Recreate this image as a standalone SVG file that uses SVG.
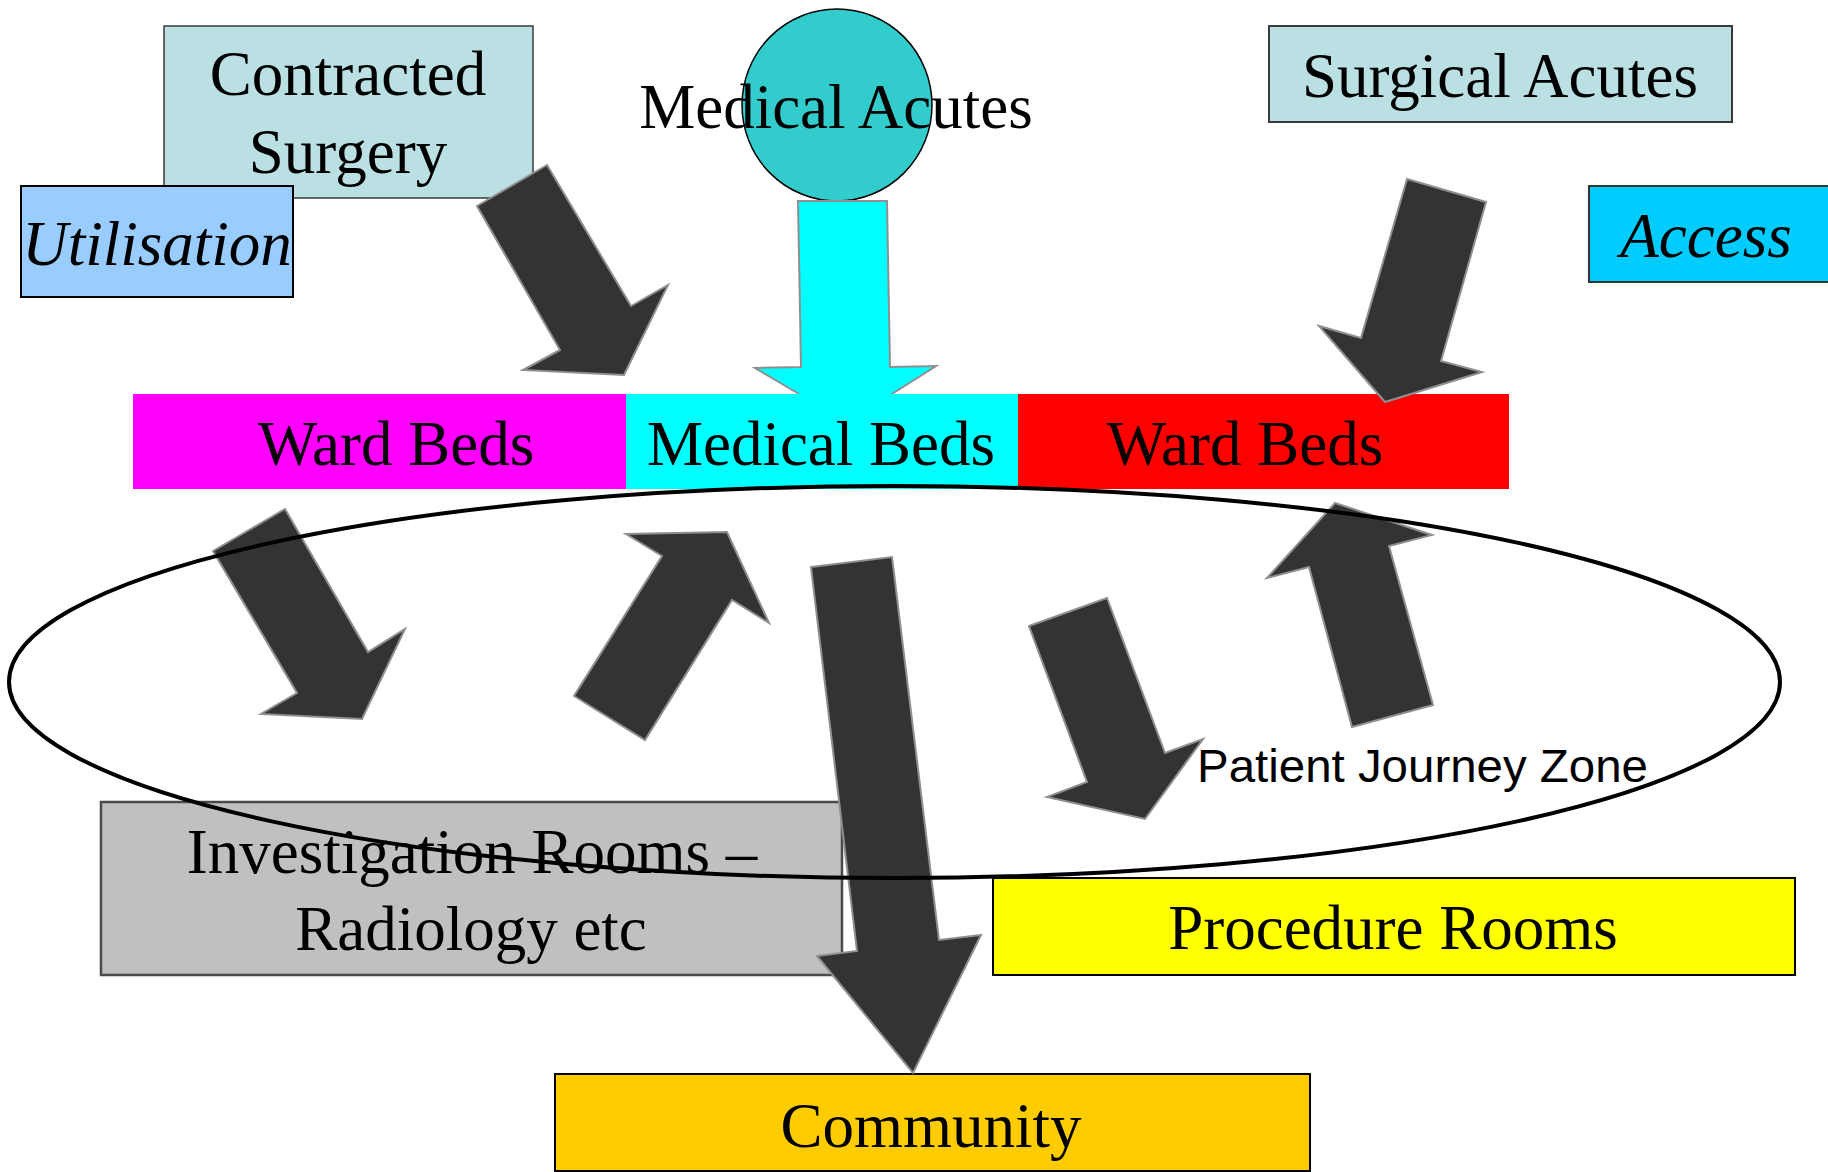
<svg xmlns="http://www.w3.org/2000/svg" width="1828" height="1172" viewBox="0 0 1828 1172">
<style>
.t{font-family:"Liberation Serif","Times New Roman",serif;font-size:63px;fill:#000;text-anchor:middle}
.i{font-style:italic}
.s{font-family:"Liberation Sans",Arial,sans-serif;font-size:46px;fill:#000}
.arr{fill:#333333;stroke:#8f8f8f;stroke-width:2;stroke-linejoin:miter}
</style>
<rect width="1828" height="1172" fill="#fff"/>
<g id="contracted-surgery">
<rect x="164" y="26" width="369" height="172" fill="#BBE0E3" stroke="#3a3a3a" stroke-width="1.5"/>
<text class="t" x="348" y="95">Contracted</text>
<text class="t" x="348" y="173">Surgery</text>
</g>
<g id="utilisation">
<rect x="21" y="186" width="272" height="111" fill="#99CCFF" stroke="#000" stroke-width="2"/>
<text class="t i" x="157" y="265">Utilisation</text>
</g>
<g id="medical-acutes">
<ellipse cx="837" cy="105" rx="95" ry="96" fill="#33CCCC" stroke="#000" stroke-width="1.5"/>
<text class="t" x="836" y="128">Medical Acutes</text>
</g>
<g id="surgical-acutes">
<rect x="1269" y="26" width="463" height="96" fill="#BBE0E3" stroke="#3a3a3a" stroke-width="2"/>
<text class="t" x="1500" y="97">Surgical Acutes</text>
</g>
<g id="access">
<rect x="1589" y="186" width="245" height="96" fill="#00CCFF" stroke="#333" stroke-width="2"/>
<text class="t i" x="1706" y="257">Access</text>
</g>
<g id="connectors-under">
<path class="arr" style="fill:#00FFFF" d="M799 394 L755 368 L801 367 L798 201 L887 201 L890 367 L936 366 L892 394"/>
</g>
<g id="ward-beds-left">
<rect x="133" y="394" width="493" height="95" fill="#FF00FF"/>
<text class="t" x="396" y="465">Ward Beds</text>
</g>
<g id="medical-beds">
<rect x="626" y="394" width="392" height="95" fill="#00FFFF"/>
<text class="t" x="821" y="465">Medical Beds</text>
</g>
<g id="ward-beds-right">
<rect x="1018" y="394" width="491" height="95" fill="#FF0000"/>
<text class="t" x="1245" y="465">Ward Beds</text>
</g>
<g id="investigation-rooms">
<rect x="101" y="802" width="741" height="173" fill="#C0C0C0" stroke="#4a4a4a" stroke-width="2.5"/>
<text class="t" x="472" y="873">Investigation Rooms –</text>
<text class="t" x="471" y="950">Radiology etc</text>
</g>
<g id="procedure-rooms">
<rect x="993" y="878" width="802" height="97" fill="#FFFF00" stroke="#000" stroke-width="2"/>
<text class="t" x="1393" y="949">Procedure Rooms</text>
</g>
<g id="community">
<rect x="555" y="1074" width="755" height="97" fill="#FFCC00" stroke="#000" stroke-width="2"/>
<text class="t" x="931" y="1147">Community</text>
</g>
<g id="connectors">
<polygon class="arr" points="547,165 631,306 668,285 624,375 523,370 560,350 477,206"/>
<polygon class="arr" points="1407,179 1486,202 1441,361 1482,372 1385,402 1319,326 1361,338"/>
<polygon class="arr" points="285,509 368,652 405,629 362,719 261,714 297,693 213,551"/>
<polygon class="arr" points="574,696 645,740 732,600 769,623 727,532 626,534 662,556"/>
<polygon class="arr" points="1029,626 1107,598 1165,753 1203,739 1145,819 1047,797 1087,782"/>
<polygon class="arr" points="1352,727 1433,705 1389,546 1432,535 1335,503 1267,578 1309,567"/>
<polygon class="arr" points="811,567 892,557 939,940 981,935 913,1073 817,956 857,951"/>
</g>
<g id="patient-journey-zone">
<ellipse cx="894.5" cy="682" rx="885.5" ry="196" fill="none" stroke="#000" stroke-width="4"/>
<text class="s" x="1197" y="782" textLength="451" lengthAdjust="spacingAndGlyphs">Patient Journey Zone</text>
</g>
</svg>
